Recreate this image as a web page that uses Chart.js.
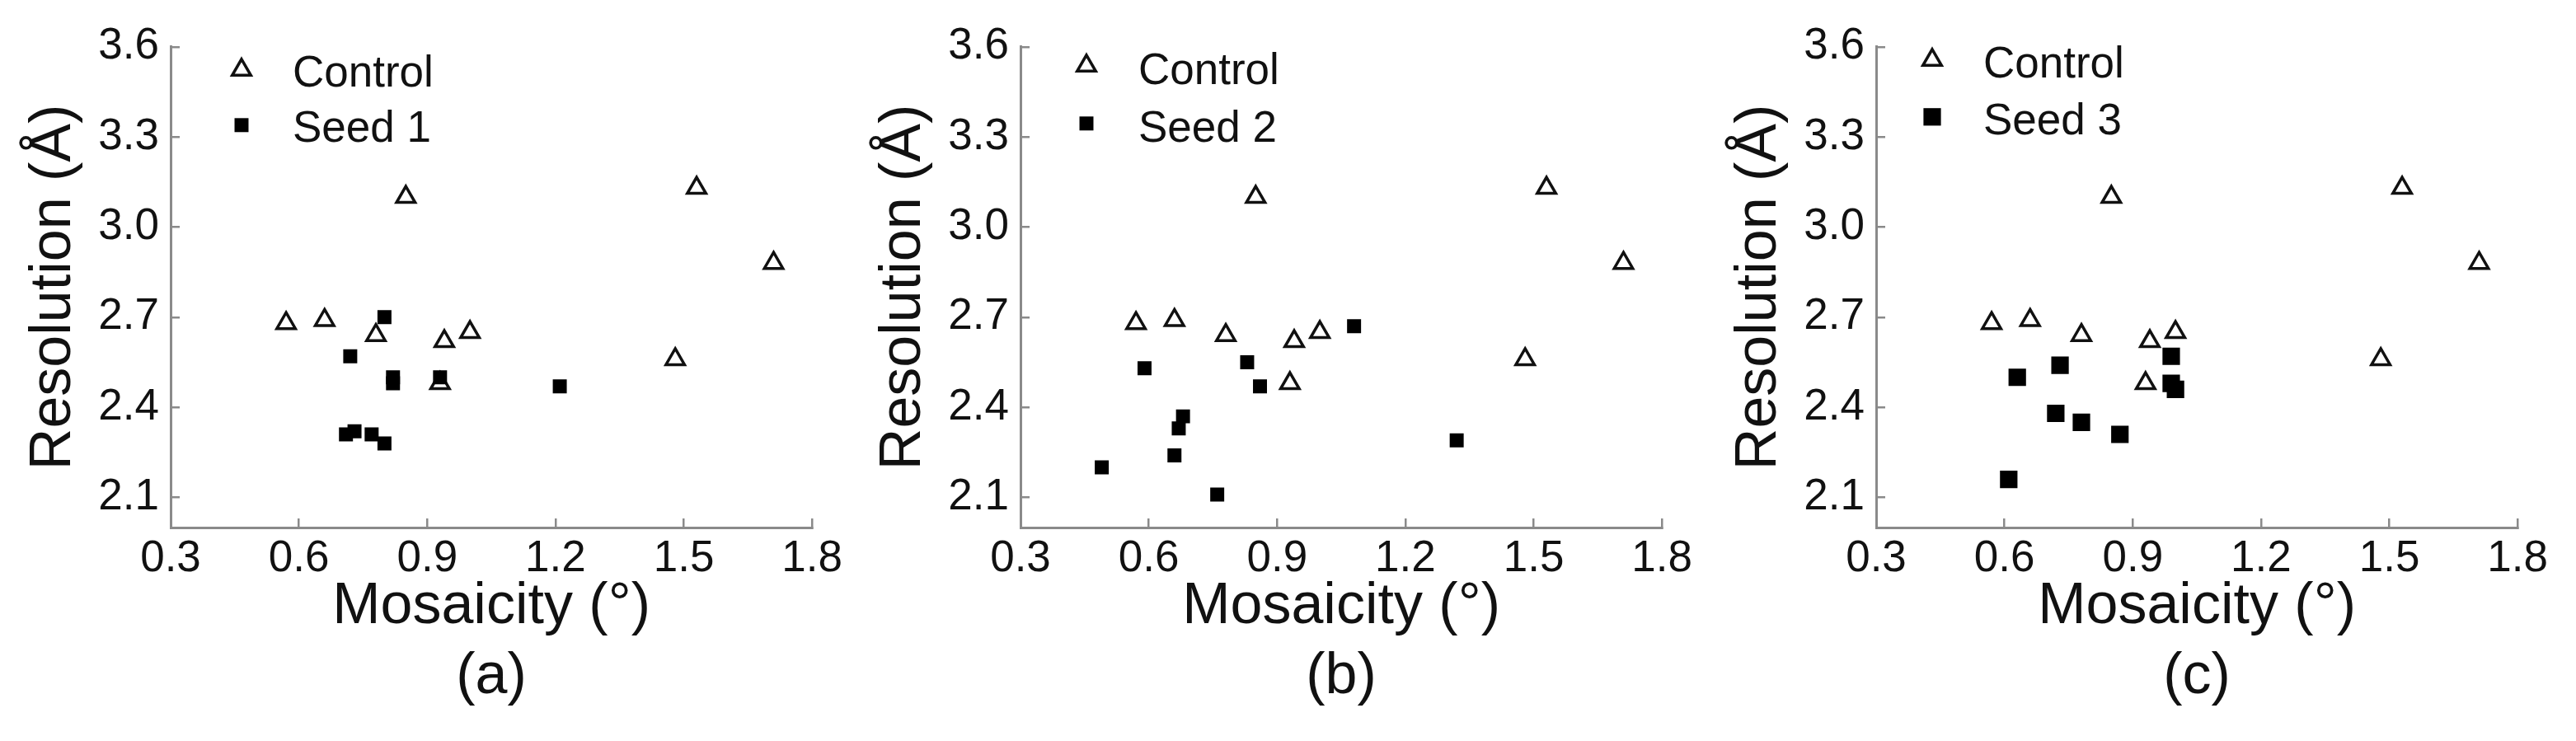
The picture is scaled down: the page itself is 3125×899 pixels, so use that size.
<!DOCTYPE html>
<html>
<head>
<meta charset="utf-8">
<script src="https://cdn.jsdelivr.net/npm/chart.js@4/dist/chart.umd.min.js"></script>
<style>
  html, body { margin: 0; padding: 0; background: #fff; }
  body { width: 3125px; height: 899px; position: relative; overflow: hidden; }
  .panel { position: absolute; top: 0; width: 1040px; height: 899px; }
</style>
</head>
<body>
<div class="panel" style="left:0px"><canvas id="chartA" width="1040" height="899"></canvas></div>
<div class="panel" style="left:1031px"><canvas id="chartB" width="1040" height="899"></canvas></div>
<div class="panel" style="left:2069px"><canvas id="chartC" width="1040" height="899"></canvas></div>
<script>
// axis ticks
const xTicks = [0.3, 0.6, 0.9, 1.2, 1.5, 1.8];
const yTicks = [2.1, 2.4, 2.7, 3.0, 3.3, 3.6];

// control crystals (same in every panel)
const controlX = [0.57, 0.66, 0.78, 0.85, 0.94, 1.00, 0.93, 1.48, 1.53, 1.71];
const controlY = [2.68, 2.69, 2.64, 3.10, 2.62, 2.65, 2.48, 2.56, 3.13, 2.88];

// seeded crystals
const seed1X = [0.80, 0.72, 0.82, 0.82, 0.93, 1.21, 0.71, 0.73, 0.77, 0.80];
const seed1Y = [2.70, 2.57, 2.50, 2.48, 2.50, 2.47, 2.31, 2.32, 2.31, 2.28];
const seed2X = [0.49, 0.59, 0.66, 0.67, 0.68, 0.76, 0.83, 0.86, 1.08, 1.32];
const seed2Y = [2.20, 2.53, 2.24, 2.33, 2.37, 2.11, 2.55, 2.47, 2.67, 2.29];
const seed3X = [0.61, 0.63, 0.72, 0.73, 0.78, 0.87, 0.99, 0.99, 1.00];
const seed3Y = [2.16, 2.50, 2.38, 2.54, 2.35, 2.31, 2.57, 2.48, 2.46];

const FONT = '"Liberation Sans", Arial, Helvetica, sans-serif';
const AXIS_GREY = '#8a8a8a';

const toPoints = (xs, ys) => xs.map((x, i) => ({ x: x, y: ys[i] }));

// legend drawn inside the plot area, top-left
const insideLegend = {
  id: 'insideLegend',
  afterDraw(chart, args, opts) {
    const { ctx, chartArea } = chart;
    ctx.save();
    chart.data.datasets.forEach((ds, i) => {
      const x = chartArea.left + opts.x;
      const y = chartArea.top + opts.y + i * opts.gap;
      ctx.lineWidth = ds.borderWidth;
      ctx.strokeStyle = ds.borderColor;
      ctx.fillStyle = ds.backgroundColor;
      Chart.helpers.drawPoint(ctx, {
        pointStyle: ds.pointStyle,
        radius: ds.pointRadius,
        borderWidth: ds.borderWidth,
        rotation: 0
      }, x, y);
      ctx.fillStyle = '#111';
      ctx.font = '53px ' + FONT;
      ctx.textBaseline = 'alphabetic';
      ctx.textAlign = 'left';
      ctx.fillText(ds.label, x + opts.textDx, y + opts.textDy);
    });
    ctx.restore();
  }
};

function makePanel(id, seedLabel, seedX, seedY, squareRadius, letter, legendPos) {
  const ctx = document.getElementById(id).getContext('2d');
  return new Chart(ctx, {
    type: 'scatter',
    data: {
      datasets: [{
        label: 'Control',
        data: toPoints(controlX, controlY),
        pointStyle: 'triangle',
        pointRadius: 13,
        pointHoverRadius: 13,
        backgroundColor: '#ffffff',
        borderColor: '#111111',
        borderWidth: 3.5,
        order: 1
      }, {
        label: seedLabel,
        data: toPoints(seedX, seedY),
        pointStyle: 'rect',
        pointRadius: squareRadius,
        pointHoverRadius: squareRadius,
        backgroundColor: '#000000',
        borderColor: '#000000',
        borderWidth: 0,
        order: 0
      }]
    },
    options: {
      responsive: false,
      animation: false,
      layout: { padding: { top: 52, right: 43, bottom: 0, left: 0 } },
      plugins: {
        legend: { display: false },
        tooltip: { enabled: false },
        insideLegend: legendPos
      },
      scales: {
        x: {
          type: 'linear',
          min: 0.3,
          max: 1.8,
          afterBuildTicks: (s) => { s.ticks = xTicks.map(v => ({ value: v })); },
          afterFit: (s) => { s.height = 259; },
          border: { display: true, color: AXIS_GREY, width: 3 },
          grid: { drawOnChartArea: false, drawTicks: true, tickLength: -11, color: AXIS_GREY, lineWidth: 2.5 },
          ticks: {
            padding: 18,
            color: '#111',
            font: { family: FONT, size: 53, lineHeight: 1.2 },
            callback: (v) => Number(v).toFixed(1)
          },
          title: {
            display: true,
            text: ['Mosaicity (\u00B0)', letter],
            color: '#111',
            font: { family: FONT, size: 70, lineHeight: 1.21 },
            padding: { top: 0, bottom: 35 }
          }
        },
        y: {
          type: 'linear',
          min: 2.0,
          max: 3.6,
          afterBuildTicks: (s) => { s.ticks = yTicks.map(v => ({ value: v })); },
          afterFit: (s) => { s.width = 207; },
          border: { display: true, color: AXIS_GREY, width: 3 },
          grid: { drawOnChartArea: false, drawTicks: true, tickLength: -11, color: AXIS_GREY, lineWidth: 2.5 },
          ticks: {
            padding: 25,
            color: '#111',
            font: { family: FONT, size: 53, lineHeight: 1.2 },
            callback: (v) => Number(v).toFixed(1)
          },
          title: {
            display: true,
            text: 'Resolution (\u00C5)',
            color: '#111',
            font: { family: FONT, size: 70, lineHeight: 1.21 },
            padding: { top: 23, bottom: 0 }
          }
        }
      }
    },
    plugins: [insideLegend]
  });
}

makePanel('chartA', 'Seed 1', seed1X, seed1Y, 12, '(a)', { x: 86, y: 28, gap: 67, textDx: 62, textDy: 20 });
makePanel('chartB', 'Seed 2', seed2X, seed2Y, 12, '(b)', { x: 80, y: 23, gap: 70, textDx: 63, textDy: 22 });
makePanel('chartC', 'Seed 3', seed3X, seed3Y, 15, '(c)', { x: 68, y: 16, gap: 69, textDx: 62, textDy: 21 });
</script>
</body>
</html>
